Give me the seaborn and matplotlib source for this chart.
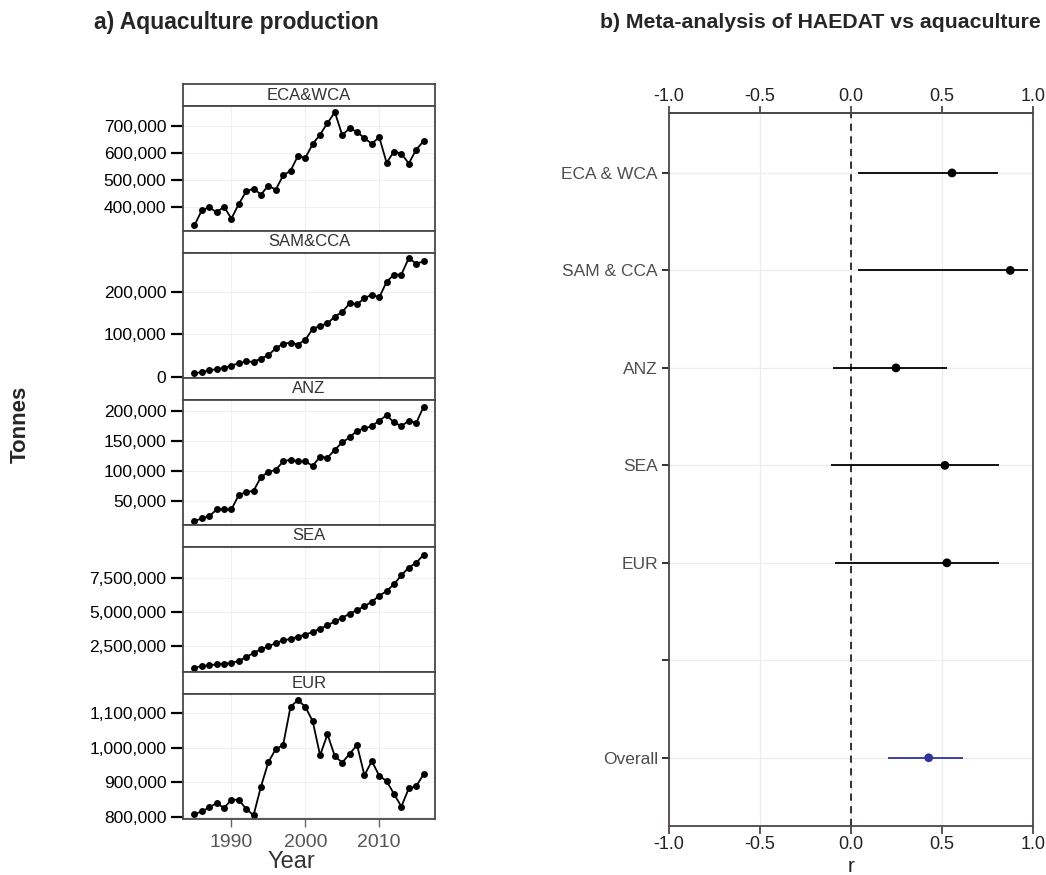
import numpy as np
import pandas as pd
import matplotlib
matplotlib.use("Agg")
import matplotlib.pyplot as plt
from matplotlib.ticker import FuncFormatter
import seaborn as sns

# ---- data: aquaculture production (tonnes), 1985-2016 ----
years = list(range(1985, 2017))

regions = ["ECA&WCA", "SAM&CCA", "ANZ", "SEA", "EUR"]

eca_wca = [333000, 389000, 400000, 381000, 402000, 358000, 412000, 459000,
           469000, 447000, 480000, 465000, 518000, 535000, 590000, 583000,
           634000, 669000, 712000, 752000, 667000, 693000, 679000, 656000,
           635000, 660000, 565000, 606000, 599000, 562000, 613000, 645000]
sam_cca = [8000, 11000, 15000, 18000, 21000, 26000, 32000, 36000,
           35000, 43000, 51000, 67000, 78000, 80000, 76000, 87000,
           113000, 120000, 126000, 142000, 153000, 173000, 171000, 185000,
           194000, 187000, 224000, 241000, 241000, 280000, 267000, 272000]
anz = [16000, 21500, 24400, 36000, 36000, 36000, 60000, 65000,
       67000, 90000, 98500, 102000, 116000, 119000, 116000, 116000,
       108600, 124000, 122000, 135500, 148000, 156000, 167500, 171000,
       175000, 184000, 193000, 181000, 175000, 184000, 180000, 207000]
sea = [900000, 1020000, 1070000, 1150000, 1190000, 1260000, 1390000, 1690000,
       1980000, 2260000, 2480000, 2720000, 2920000, 3020000, 3190000, 3340000,
       3540000, 3780000, 4030000, 4330000, 4590000, 4890000, 5160000, 5440000,
       5780000, 6200000, 6570000, 7070000, 7730000, 8300000, 8650000, 9240000]
eur = [807000, 815000, 826500, 839500, 825000, 849000, 849000, 822000,
       804000, 887000, 958000, 996000, 1008000, 1119000, 1138000, 1119000,
       1077000, 978000, 1039000, 975000, 957000, 982000, 1008000, 920000,
       961000, 919000, 903000, 866000, 829000, 882000, 888000, 923000]

series = [eca_wca, sam_cca, anz, sea, eur]
y_ticks = [
    [400000, 500000, 600000, 700000],
    [0, 100000, 200000],
    [50000, 100000, 150000, 200000],
    [2500000, 5000000, 7500000],
    [800000, 900000, 1000000, 1100000],
]
y_limits = [(312000, 775000), (-3000, 292000), (10000, 218500),
            (580000, 9820000), (793000, 1156000)]

# ---- data: meta-analysis (correlation r with CI) ----
forest_labels = ["ECA & WCA", "SAM & CCA", "ANZ", "SEA", "EUR", "", "Overall"]
forest_names = ["ECA & WCA", "SAM & CCA", "ANZ", "SEA", "EUR", "Overall"]
r_est = [0.555, 0.875, 0.247, 0.516, 0.527, 0.427]
r_low = [0.037, 0.037, -0.100, -0.110, -0.090, 0.205]
r_high = [0.810, 0.975, 0.530, 0.815, 0.815, 0.614]
r_ticks = [-1.0, -0.5, 0.0, 0.5, 1.0]

# ---- style ----
sns.set_theme(style="white")
plt.rcParams["font.family"] = ["Liberation Sans", "DejaVu Sans"]

W, H = 1046, 875
fig = plt.figure(figsize=(W / 100, H / 100), dpi=100)


def fx(px):
    return px / W


def fy(px):
    return 1 - px / H


frame_col = "#4d4646"
thousands = FuncFormatter(lambda v, p: f"{v:,.0f}")

# ---- left: small multiples ----
left_px, right_px = 183, 435
for i, (name, vals) in enumerate(zip(regions, series)):
    top = 84 + 147 * i
    strip_bot = top + 22
    plot_bot = top + 147

    sax = fig.add_axes([fx(left_px), fy(strip_bot), fx(right_px - left_px),
                        (strip_bot - top) / H])
    sax.set_xticks([])
    sax.set_yticks([])
    sax.set_facecolor("white")
    for s in sax.spines.values():
        s.set_color(frame_col)
        s.set_linewidth(1.3)
    sax.text(0.5, 0.5, name, ha="center", va="center", fontsize=12,
             color="#333333", transform=sax.transAxes)

    ax = fig.add_axes([fx(left_px), fy(plot_bot), fx(right_px - left_px),
                       (plot_bot - strip_bot) / H])
    df = pd.DataFrame({"Year": years, "Tonnes": vals})
    sns.lineplot(data=df, x="Year", y="Tonnes", color="black", linewidth=1.3,
                 marker="o", markersize=5, markeredgewidth=0, ax=ax)
    ax.set_xlim(1983.45, 2017.55)
    ax.set_ylim(*y_limits[i])
    ax.set_yticks(y_ticks[i])
    ax.yaxis.set_major_formatter(thousands)
    ax.set_xticks([1990, 2000, 2010])
    ax.grid(True, color="#f0f0f0", linewidth=0.8)
    ax.set_xlabel("")
    ax.set_ylabel("")
    ax.tick_params(axis="y", left=True, length=9, width=1.6, color="black",
                   labelsize=12.5, labelcolor="black", pad=3)
    if i < len(regions) - 1:
        ax.tick_params(axis="x", bottom=False, labelbottom=False)
    else:
        ax.tick_params(axis="x", bottom=True, length=6, width=1, color="#666666",
                       labelsize=14, labelcolor="#555555", pad=5)
    for s in ax.spines.values():
        s.set_color(frame_col)
        s.set_linewidth(1.3)

fig.text(fx(236), fy(22), "a) Aquaculture production", ha="center", va="center",
         fontsize=16.5, fontweight="bold")
fig.text(fx(20), fy(424), "Tonnes", ha="center", va="center", rotation=90,
         fontsize=16, fontweight="bold")
fig.text(fx(291), fy(862), "Year", ha="center", va="center", fontsize=17,
         color="#333333")

# ---- right: forest plot ----
fax = fig.add_axes([fx(669), fy(826), fx(1033 - 669), (826 - 113) / H])
pos = [forest_labels.index(n) for n in forest_names]
colors = ["black"] * 5 + ["#30349a"]
fax.hlines(pos, r_low, r_high, colors=colors, linewidth=1.3, zorder=3)
fdf = pd.DataFrame({"r": r_est, "pos": pos, "name": forest_names})
sns.scatterplot(data=fdf, x="r", y="pos", hue="name",
                palette=dict(zip(forest_names, colors)), s=40,
                edgecolor="none", legend=False, zorder=4, ax=fax)
fax.axvline(0, color="#222222", linestyle=(0, (4, 3)), linewidth=1.3, zorder=2)
fax.set_xlim(-1.0, 1.0)
fax.set_ylim(6.7, -0.615)
fax.set_xticks(r_ticks)
fax.set_xticklabels([f"{t:.1f}" for t in r_ticks])
fax.set_yticks(range(len(forest_labels)))
fax.set_yticklabels(forest_labels)
fax.grid(True, color="#ececec", linewidth=0.9)
fax.set_ylabel("")
fax.set_xlabel("")
fax.tick_params(axis="x", bottom=True, length=6, width=1.3, color=frame_col,
                labelsize=13, labelcolor="#222222", pad=1)
fax.tick_params(axis="y", left=True, length=5, width=1.3, color="#222222",
                labelsize=12.5, labelcolor="#4d4d4d", pad=3)
for s in fax.spines.values():
    s.set_color(frame_col)
    s.set_linewidth(1.3)

top_ax = fax.secondary_xaxis("top")
top_ax.set_xticks(r_ticks)
top_ax.set_xticklabels([f"{t:.1f}" for t in r_ticks])
top_ax.tick_params(axis="x", length=5, width=1.3, color=frame_col,
                   labelsize=13, labelcolor="#222222", pad=1)
top_ax.spines["top"].set_color(frame_col)
top_ax.spines["top"].set_linewidth(1.3)

fig.text(fx(820), fy(22), "b) Meta-analysis of HAEDAT vs aquaculture",
         ha="center", va="center", fontsize=15.3, fontweight="bold")
fig.text(fx(851), fy(866), "r", ha="center", va="center", fontsize=15,
         color="#222222")

fig.savefig("out.png", dpi=100)
